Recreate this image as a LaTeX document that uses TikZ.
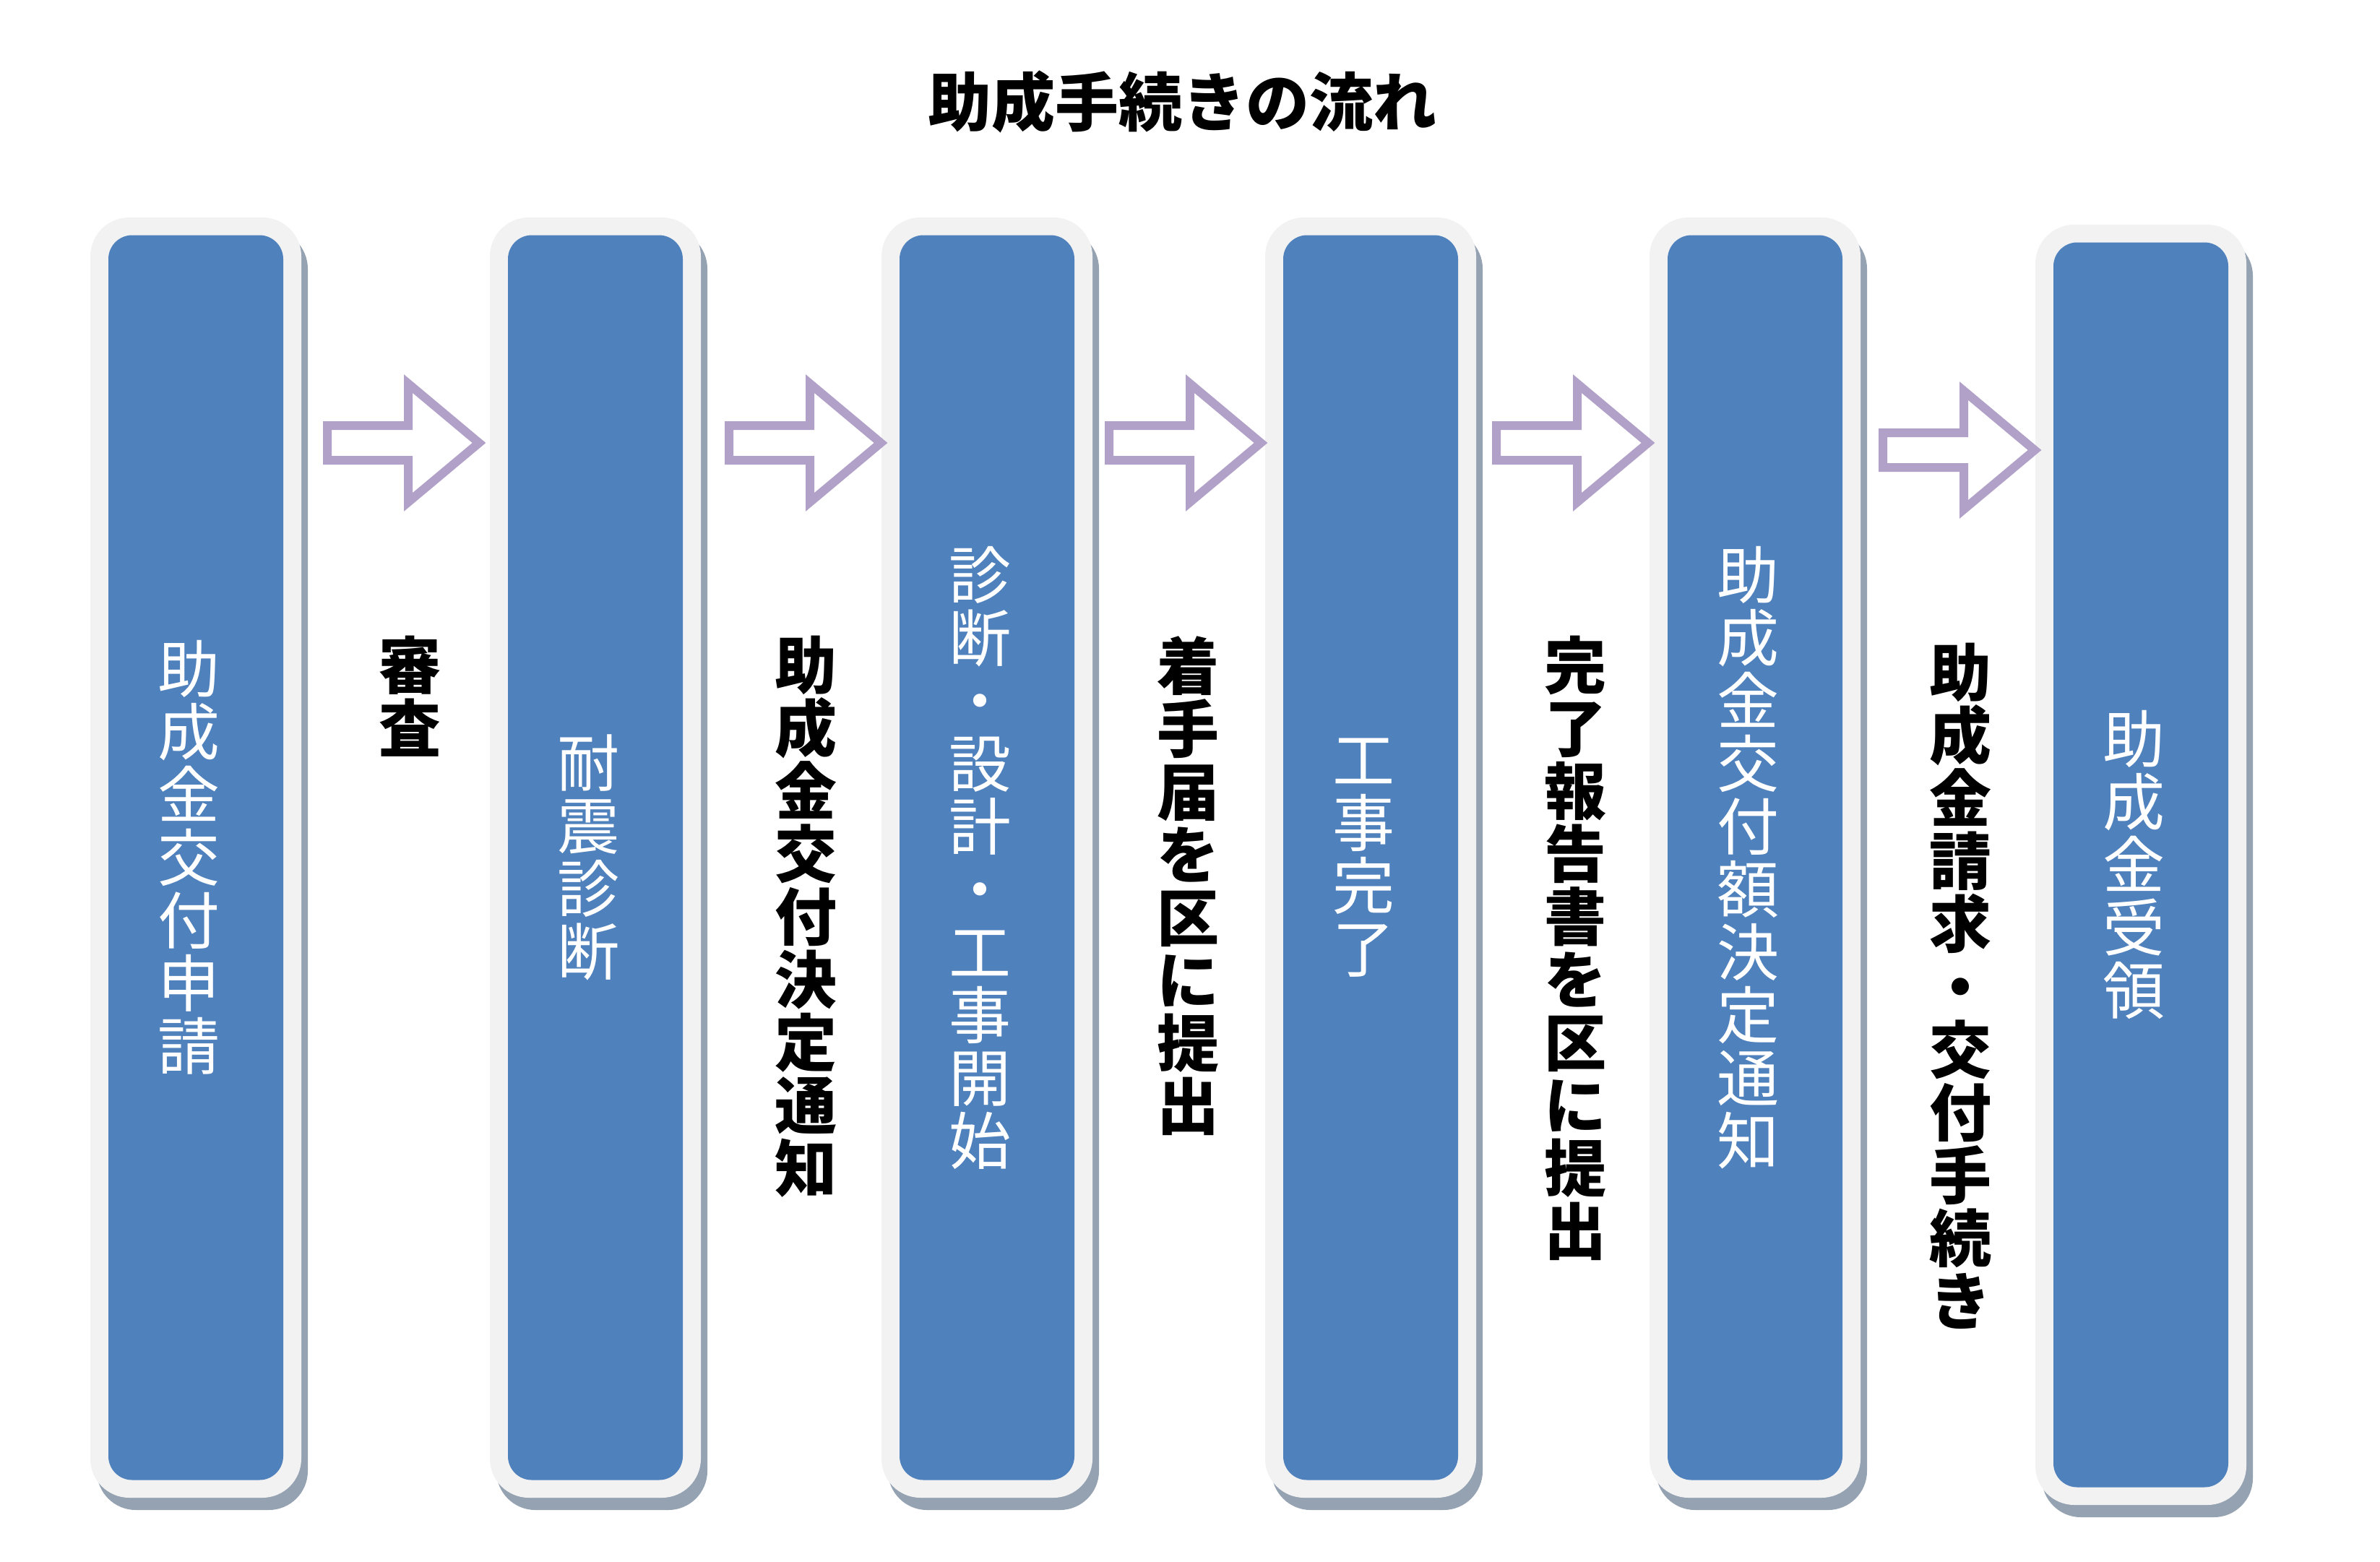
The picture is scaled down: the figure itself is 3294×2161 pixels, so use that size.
\documentclass[tikz,border=0pt]{standalone}
\usepackage{fontspec}
\newfontfamily\jp{Noto Sans CJK JP}
\usetikzlibrary{shadows}
\definecolor{boxblue}{HTML}{4F81BD}
\definecolor{boxrim}{HTML}{F2F2F2}
\definecolor{boxshadow}{HTML}{95A2B2}
\definecolor{arrowc}{HTML}{B1A0C7}
\tikzset{
  rimbox/.style={fill=boxrim, draw=none, rounded corners=54pt, minimum width=292pt,
    minimum height=1772pt, inner sep=0pt,
    drop shadow={shadow xshift=9pt, shadow yshift=-17pt, fill=boxshadow, opacity=1}},
  bluebox/.style={fill=boxblue, draw=none, rounded corners=33pt, minimum width=242pt,
    minimum height=1723pt, inner sep=0pt},
  boxtext/.style={inner sep=0pt, text=white, align=center,
    font=\jp\fontsize{86}{87}\selectfont},
  steptext/.style={anchor=north, inner sep=0pt, align=center, text=black,
    font=\jp\bfseries\fontsize{86}{87}\selectfont},
  blockarrow/.style={draw=arrowc, fill=white, line width=12pt, line join=miter},
}
\newcommand\flowarrow[1]{\draw[blockarrow, shift={(#1)}] (-107,-24) -- (5,-24) -- (5,-82) -- (103,0) -- (5,82) -- (5,24) -- (-107,24) -- cycle;}
\begin{document}
\begin{tikzpicture}[x=1pt,y=-1pt]
\useasboundingbox (0,0) rectangle (3294,2161);
\fill[white] (0,0) rectangle (3294,2161);

\node[font=\jp\bfseries\fontsize{88}{88}\selectfont, inner sep=0pt] (title) at (1636,141) {助成手続きの流れ};

% boxes
\node[rimbox] (r1) at (271,1187) {};
\node[rimbox] (r2) at (824,1187) {};
\node[rimbox] (r3) at (1366,1187) {};
\node[rimbox] (r4) at (1897,1187) {};
\node[rimbox] (r5) at (2429,1187) {};
\node[rimbox] (r6) at (2963,1197) {};

\node[bluebox] (b1) at (r1.center) {};
\node[bluebox] (b2) at (r2.center) {};
\node[bluebox] (b3) at (r3.center) {};
\node[bluebox] (b4) at (r4.center) {};
\node[bluebox] (b5) at (r5.center) {};
\node[bluebox] (b6) at (r6.center) {};

\node[boxtext] (t1) at ([xshift=-10pt]b1.center) {助\\成\\金\\交\\付\\申\\請};
\node[boxtext] (t2) at ([xshift=-10pt]b2.center) {耐\\震\\診\\断};
\node[boxtext] (t3) at ([xshift=-10pt]b3.center) {診\\断\\・\\設\\計\\・\\工\\事\\開\\始};
\node[boxtext] (t4) at ([xshift=-10pt]b4.center) {工\\事\\完\\了};
\node[boxtext] (t5) at ([xshift=-10pt]b5.center) {助\\成\\金\\交\\付\\額\\決\\定\\通\\知};
\node[boxtext] (t6) at ([xshift=-10pt]b6.center) {助\\成\\金\\受\\領};

% arrows
\coordinate (a1) at (560,613);
\coordinate (a2) at (1116,613);
\coordinate (a3) at (1642,613);
\coordinate (a4) at (2178,613);
\coordinate (a5) at (2713,623);
\flowarrow{a1}
\flowarrow{a2}
\flowarrow{a3}
\flowarrow{a4}
\flowarrow{a5}

% step labels
\node[steptext] (l1) at (567,880) {審\\査};
\node[steptext] (l2) at (1115,880) {助\\成\\金\\交\\付\\決\\定\\通\\知};
\node[steptext] (l3) at (1644,880) {着\\手\\届\\を\\区\\に\\提\\出};
\node[steptext] (l4) at (2180,880) {完\\了\\報\\告\\書\\を\\区\\に\\提\\出};
\node[steptext] (l5) at (2713,890) {助\\成\\金\\請\\求\\・\\交\\付\\手\\続\\き};
\end{tikzpicture}
\end{document}
